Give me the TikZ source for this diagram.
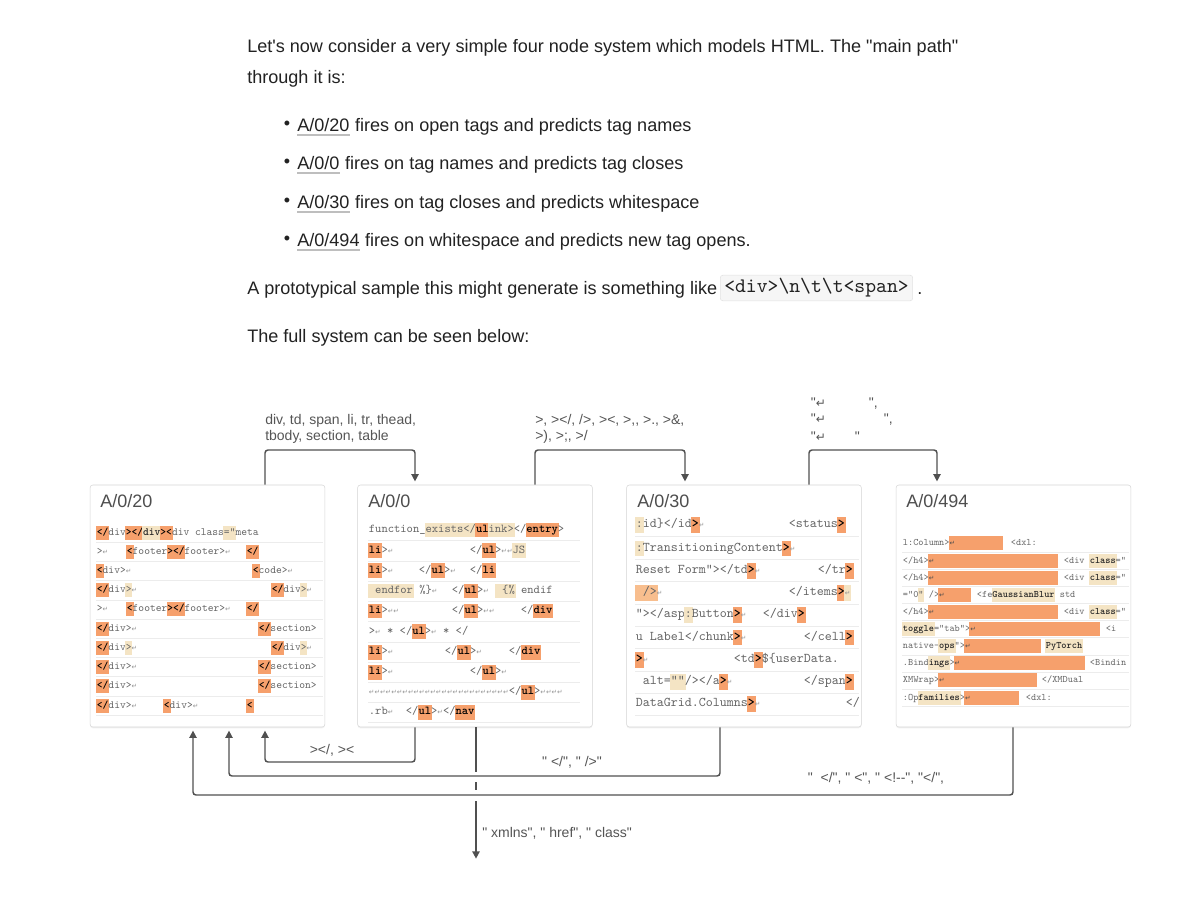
\documentclass[tikz,border=0pt]{standalone}
\usepackage{fontspec}
\newfontfamily\uifont{Liberation Sans}
\newfontfamily\symfont{DejaVu Sans}
\newfontfamily\codefont{lmmono10-regular.otf}[BoldFont=lmmonolt10-bold.otf]
\usetikzlibrary{arrows.meta,shadows}

\definecolor{inkmain}{RGB}{34,34,34}
\definecolor{inklabel}{RGB}{85,85,85}
\definecolor{inkcode}{RGB}{100,100,100}
\definecolor{wirecol}{RGB}{80,80,80}
\definecolor{cardline}{RGB}{214,214,214}
\definecolor{rowline}{RGB}{236,236,236}
\definecolor{hlorange}{RGB}{246,160,108}
\definecolor{hlsoft}{RGB}{248,190,142}
\definecolor{hltan}{RGB}{244,228,196}
\definecolor{chipfill}{RGB}{246,246,246}
\definecolor{chipline}{RGB}{226,226,226}
\definecolor{linkcol}{RGB}{190,190,190}

\newlength\pxu \setlength\pxu{0.75pt}
\setlength\fboxsep{0.6pt}
% token at an offset (px) from the start of a row
\newcommand\putat[2]{\rlap{\hspace*{#1\pxu}#2}}
\newcommand\hlo[1]{\hspace*{-\fboxsep}\colorbox{hlorange}{\strut\bfseries\color{black}#1}\hspace*{-\fboxsep}}
\newcommand\hlt[1]{\hspace*{-\fboxsep}\colorbox{hltan}{\strut#1}\hspace*{-\fboxsep}}
\newcommand\hlb[1]{\hspace*{-\fboxsep}\colorbox{hltan}{\strut\bfseries\color{black!85}#1}\hspace*{-\fboxsep}}
\newcommand\hls[1]{\hspace*{-\fboxsep}\colorbox{hlsoft}{\strut#1}\hspace*{-\fboxsep}}
\newcommand\retsym{{\symfont\tiny\color{inkcode!70}↵}}
\newcommand\retbig{{\symfont\fontsize{9}{10}\selectfont ↵}}
\newcommand\orangebar[1]{\hspace*{-\fboxsep}\colorbox{hlorange}{\strut\makebox[#1\pxu][l]{\symfont\tiny\color{black!70}↵}}\hspace*{-\fboxsep}}

\begin{document}
\begin{tikzpicture}[x=0.75pt, y=-0.75pt,
    para/.style = {anchor=base west, inner sep=0pt, font=\uifont\fontsize{13.55}{16}\selectfont, text=inkmain},
    bulletmark/.style = {inner sep=0pt, font=\uifont\fontsize{13.55}{16}\selectfont, text=inkmain},
    underl/.style = {draw=linkcol, line width=0.8pt},
    chip/.style = {anchor=west, fill=chipfill, draw=chipline, rounded corners=2pt, inner xsep=3pt, inner ysep=2.5pt, text=inkmain, font=\codefont\fontsize{15.5}{17}\selectfont},
    card/.style = {draw=cardline, fill=white, rounded corners=2pt, minimum width=176pt, minimum height=181.5pt, inner sep=0pt,
                   drop shadow={shadow xshift=0pt, shadow yshift=-1pt, opacity=0.10}},
    title/.style = {anchor=west, inner sep=0pt, font=\uifont\fontsize{13.5}{15}\selectfont, text=inkmain!80},
    rowrule/.style = {draw=rowline, line width=0.6pt},
    row20/.style = {anchor=west, inner sep=0pt, text=inkcode, font=\codefont\fontsize{8.25}{9.5}\selectfont},
    row0/.style = {anchor=west, inner sep=0pt, text=inkcode, font=\codefont\fontsize{9}{10}\selectfont},
    row30/.style = {anchor=west, inner sep=0pt, text=inkcode, font=\codefont\fontsize{10}{10.5}\selectfont},
    row494/.style = {anchor=west, inner sep=0pt, text=inkcode, font=\codefont\fontsize{7.4}{9.5}\selectfont},
    lbl/.style = {anchor=west, inner sep=0pt, align=left, text=inklabel, font=\uifont\fontsize{10.5}{12}\selectfont},
    wireline/.style = {draw=wirecol, line width=1.1pt},
    flow/.style = {wireline, rounded corners=2.25pt, -{Triangle[length=5.5pt,width=5.5pt]}, shorten >=2.5pt}
  ]
\useasboundingbox[fill=white] (0,0) rectangle (1200,900);

% text above the diagram
\node[para] (p1) at (247,52) {Let's now consider a very simple four node system which models HTML. The "main path"};
\node[para] (p2) at (247,83) {through it is:};

\node[bulletmark] (m20) at (287,125) {•};
\node[para] (k20) at (297,131) {A/0/20};
\node[para] (x20) at (k20.base east) {\ fires on open tags and predicts tag names};
\node[bulletmark] (m0) at (287,163) {•};
\node[para] (k0) at (297,169) {A/0/0};
\node[para] (x0) at (k0.base east) {\ fires on tag names and predicts tag closes};
\node[bulletmark] (m30) at (287,202) {•};
\node[para] (k30) at (297,208) {A/0/30};
\node[para] (x30) at (k30.base east) {\ fires on tag closes and predicts whitespace};
\node[bulletmark] (m494) at (287,240) {•};
\node[para] (k494) at (297,246) {A/0/494};
\node[para] (x494) at (k494.base east) {\ fires on whitespace and predicts new tag opens.};
\foreach \k in {k20,k0,k30,k494}
  \draw[underl] ([yshift=-3pt]\k.base west) -- ([yshift=-3pt]\k.base east);

\node[para] (pr) at (247,294) {A prototypical sample this might generate is something like};
\node[chip] (sample) at (720,288) {<div>\textbackslash n\textbackslash t\textbackslash t<span>};
\node[para] (stop) at ([xshift=3pt]sample.east |- pr.base) {.};
\node[para] (full) at (247,342) {The full system can be seen below:};

% the four nodes
\node[card] (b20) at (207.5,606) {};
\node[card] (b0) at (475,606) {};
\node[card] (b30) at (744,606) {};
\node[card] (b494) at (1013.5,606) {};
\node[title] (t20) at (100,500.7) {A/0/20};
\node[title] (t0) at (368,500.7) {A/0/0};
\node[title] (t30) at (637,500.7) {A/0/30};
\node[title] (t494) at (906,500.7) {A/0/494};

\foreach \y in {542,561,580,600,619,638,657,676,696,715} \draw[rowrule] (96,\y) -- (323,\y);
\foreach \y in {540,561,581,601,621,642,662,682,702,722} \draw[rowrule] (368,\y) -- (580,\y);
\foreach \y in {536,559,581,604,626,648,671,693,715} \draw[rowrule] (635,\y) -- (859,\y);
\foreach \y in {552,569,586,603,620,637,655,672,689,706} \draw[rowrule] (902,\y) -- (1129,\y);

% A/0/20
\node[row20] (r20a) at (96,532.7) {\putat{0}{\hlo{</}div\hlo{></}\hlb{div}\hlo{><}div class\hlt{="}meta}};
\node[row20] (r20b) at (96,551.7) {\putat{0}{>\retsym}\putat{30}{\hlo{ <}footer\hlo{></}footer>\retsym}\putat{150}{\hlo{ </}}};
\node[row20] (r20c) at (96,570.7) {\putat{0}{\hlo{ <}div>\retsym}\putat{156}{\hlo{ <}code>\retsym}};
\node[row20] (r20d) at (96,590) {\putat{0}{\hlo{ </}div\hlt{>}\retsym}\putat{175}{\hlo{ </}div\hlt{>}\retsym}};
\node[row20] (r20e) at (96,609.3) {\putat{0}{>\retsym}\putat{30}{\hlo{ <}footer\hlo{></}footer>\retsym}\putat{150}{\hlo{ </}}};
\node[row20] (r20f) at (96,628.7) {\putat{0}{\hlo{ </}div>\retsym}\putat{162}{\hlo{ </}section>}};
\node[row20] (r20g) at (96,647.7) {\putat{0}{\hlo{ </}div\hlt{>}\retsym}\putat{175}{\hlo{ </}div\hlt{>}\retsym}};
\node[row20] (r20h) at (96,667) {\putat{0}{\hlo{ </}div>\retsym}\putat{162}{\hlo{ </}section>}};
\node[row20] (r20i) at (96,686.3) {\putat{0}{\hlo{ </}div>\retsym}\putat{162}{\hlo{ </}section>}};
\node[row20] (r20j) at (96,705.7) {\putat{0}{\hlo{ </}div>\retsym}\putat{67}{\hlo{ <}div>\retsym}\putat{150}{\hlo{ <}}};

% A/0/0
\node[row0] (r0a) at (368,530) {\putat{0}{function\_\hlt{exists</}\hlo{ul}\hlt{ink>}</\hlo{entry}>}};
\node[row0] (r0b) at (368,550.7) {\putat{0}{\hlo{li}>\retsym}\putat{101}{</\hlo{ul}>\retsym\retsym\hlt{JS}}};
\node[row0] (r0c) at (368,570.7) {\putat{0}{\hlo{li}>\retsym}\putat{50}{</\hlo{ul}>\retsym}\putat{101}{</\hlo{li}}};
\node[row0] (r0d) at (368,591) {\putat{0}{\hlt{ endfor} \%\}\retsym}\putat{83}{</\hlo{ul}>\retsym}\putat{127}{\hlt{ \{\%} endif}};
\node[row0] (r0e) at (368,611) {\putat{0}{\hlo{li}>\retsym\retsym}\putat{83}{</\hlo{ul}>\retsym\retsym}\putat{152}{</\hlo{div}}};
\node[row0] (r0f) at (368,631.7) {\putat{0}{>\retsym{} * </\hlo{ul}>\retsym{} * </}};
\node[row0] (r0g) at (368,652.3) {\putat{0}{\hlo{li}>\retsym}\putat{76}{</\hlo{ul}>\retsym}\putat{140}{</\hlo{div}}};
\node[row0] (r0h) at (368,672.3) {\putat{0}{\hlo{li}>\retsym}\putat{101}{</\hlo{ul}>\retsym}};
\node[row0] (r0i) at (368,692.3) {\putat{0}{{\symfont\tiny\color{inkcode!70}↵↵↵↵↵↵↵↵↵↵↵↵↵↵↵↵↵↵↵↵↵↵↵↵↵}}\putat{140}{</\hlo{ul}>{\symfont\tiny\color{inkcode!70}↵↵↵↵}}};
\node[row0] (r0j) at (368,712.3) {\putat{0}{.rb\retsym}\putat{37}{</\hlo{ul}>\retsym</\hlo{nav}}};

% A/0/30
\node[row30] (r30a) at (635,525) {\putat{0}{\hlt{:}id\}</id\hlo{>}\retsym}\putat{153}{<status\hlo{>}}};
\node[row30] (r30b) at (635,548.3) {\putat{0}{\hlt{:}TransitioningContent\hlo{>}\retsym}};
\node[row30] (r30c) at (635,570.7) {\putat{0}{Reset Form"></td\hlo{>}\retsym}\putat{182}{</tr\hlo{>}}};
\node[row30] (r30d) at (635,592.7) {\putat{0}{\hls{ />}\retsym}\putat{153}{</items\hlo{>}\hlt{\retsym}}};
\node[row30] (r30e) at (635,615) {\putat{0}{"></asp\hlt{:}Button\hlo{>}\retsym}\putat{127}{</div\hlo{>}}};
\node[row30] (r30f) at (635,637.3) {\putat{0}{u Label</chunk\hlo{>}\retsym}\putat{168}{</cell\hlo{>}}};
\node[row30] (r30g) at (635,660) {\putat{0}{\hlo{>}\retsym}\putat{98}{<td\hlo{>}\$\{userData.}};
\node[row30] (r30h) at (635,682) {\putat{0}{ alt=\hlt{""}/></a\hlo{>}\retsym}\putat{168}{</span\hlo{>}}};
\node[row30] (r30i) at (635,704) {\putat{0}{DataGrid.Columns\hlo{>}\retsym}\putat{210}{</}};

% A/0/494
\node[row494] (r494a) at (902,543.3) {\putat{0}{l:Column>\orangebar{53}}\putat{108}{<dxl:}};
\node[row494] (r494b) at (902,560.7) {\putat{0}{</h4>\orangebar{128}}\putat{161}{<div \hlb{class}="}};
\node[row494] (r494c) at (902,577.7) {\putat{0}{</h4>\orangebar{128}}\putat{161}{<div \hlb{class}="}};
\node[row494] (r494d) at (902,595) {\putat{0}{="0\hlt{"} />\orangebar{31}}\putat{74}{<fe\hlb{GaussianBlur} std}};
\node[row494] (r494e) at (902,612) {\putat{0}{</h4>\orangebar{128}}\putat{161}{<div \hlb{class}="}};
\node[row494] (r494f) at (902,629) {\putat{0}{\hlb{toggle}="tab">\orangebar{129}}\putat{203}{<i}};
\node[row494] (r494g) at (902,646) {\putat{0}{native-\hlb{ops}">\orangebar{75}}\putat{143}{\hlb{PyTorch}}};
\node[row494] (r494h) at (902,663.3) {\putat{0}{.Bind\hlb{ings}>\orangebar{129}}\putat{187}{<Bindin}};
\node[row494] (r494i) at (902,680.3) {\putat{0}{XMWrap>\orangebar{97}}\putat{139}{</XMDual}};
\node[row494] (r494j) at (902,697.7) {\putat{0}{:Op\hlb{families}>\orangebar{53}}\putat{123}{<dxl:}};

% main path, along the top
\coordinate (a1) at (265,450); \coordinate (a2) at (415,450);
\coordinate (a3) at (535,450); \coordinate (a4) at (685,450);
\coordinate (a5) at (809,450); \coordinate (a6) at (937,450);
\draw[flow] (b20.north -| a1) -- (a1) -- (a2) -- (b0.north -| a2);
\draw[flow] (b0.north -| a3) -- (a3) -- (a4) -- (b30.north -| a4);
\draw[flow] (b30.north -| a5) -- (a5) -- (a6) -- (b494.north -| a6);
\node[lbl] (l1) at (265,429) {div, td, span, li, tr, thead,\\tbody, section, table};
\node[lbl] (l2) at (535,429) {>, ></, />, ><, >,, >., >\&,\\>), >;, >/};
\node[lbl] (ws1) at (810,404) {\putat{0}{"\retbig}\putat{58}{",}};
\node[lbl] (ws2) at (810,420) {\putat{0}{"\retbig}\putat{73}{",}};
\node[lbl] (ws3) at (810,437) {\putat{0}{"\retbig}\putat{44}{"}};

% back to A/0/20, along the bottom
\coordinate (c1) at (415,762); \coordinate (c2) at (265,762);
\coordinate (c3) at (720,776); \coordinate (c4) at (229,776);
\coordinate (c5) at (1013,795); \coordinate (c6) at (193,795);
\draw[flow] (b0.south -| c1) -- (c1) -- (c2) -- (b20.south -| c2);
\draw[flow] (b30.south -| c3) -- (c3) -- (c4) -- (b20.south -| c4);
\draw[flow] (b494.south -| c5) -- (c5) -- (c6) -- (b20.south -| c6);
\node[lbl, anchor=center] (l4) at (332,750) {></, ><};
\node[lbl, anchor=center] (l5) at (572,762) {" </", " />"};
\node[lbl, anchor=center] (l6) at (876,778) {"\ \ </", " <", " <!--", "</",};

% way out of A/0/0
\coordinate (e1) at (476,772); \coordinate (e2) at (476,782);
\coordinate (e3) at (476,801); \coordinate (e0) at (476,862);
\draw[wireline] (b0.south -| e1) -- (e1);
\draw[wireline] (e2) -- ++(0,8);
\draw[flow] (e3) -- (e0);
\node[lbl] (l7) at (482,833) {" xmlns", " href", " class"};
\end{tikzpicture}
\end{document}
